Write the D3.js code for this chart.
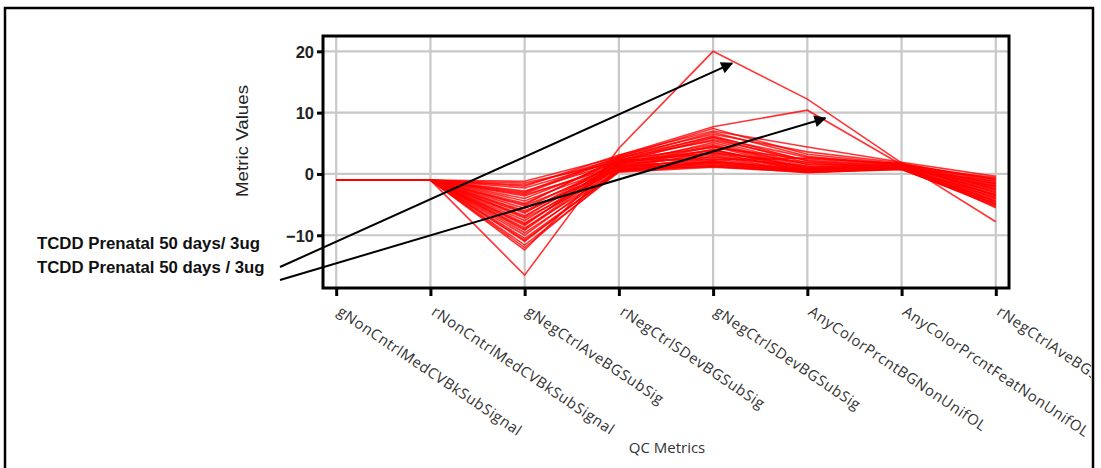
<!DOCTYPE html>
<html><head><meta charset="utf-8">
<script src="https://cdn.jsdelivr.net/npm/d3@7"></script>
<style>
html,body{margin:0;padding:0;background:#fff;}
svg{display:block;}
</style>
</head><body>
<svg id="chart" width="1101" height="468"></svg>
<script>
const categories = ["gNonCntrlMedCVBkSubSignal","rNonCntrlMedCVBkSubSignal","gNegCtrlAveBGSubSig","rNegCtrlSDevBGSubSig","gNegCtrlSDevBGSubSig","AnyColorPrcntBGNonUnifOL","AnyColorPrcntFeatNonUnifOL","rNegCtrlAveBGSubSig"];
const yTicks = [-10, 0, 10, 20];
const annotations = ["TCDD Prenatal 50 days/ 3ug", "TCDD Prenatal 50 days / 3ug"];
// Annotated samples (arrow targets)
const outlierA = [-1, -1, -16.5, 4.2, 20, 12.2, 1.8, -7.8];
const outlierB = [-1, -1, -12.4, 3.0, 7.7, 10.4, 1.5, -5.5];
const samples = [
  [-1,-1,-1.2,2.8,7.4,3.2,1.6,-1.0],
  [-1,-1,-1.8,2.5,6.8,2.9,1.4,-1.5],
  [-1,-1,-2.3,2.2,6.2,2.1,1.2,-2.2],
  [-1,-1,-2.8,1.9,5.9,1.8,1.1,-0.6],
  [-1,-1,-3.2,2.6,5.4,1.5,1.3,-1.9],
  [-1,-1,-3.6,1.6,5.1,1.2,1.0,-2.6],
  [-1,-1,-4.0,2.0,4.8,0.9,1.5,-3.1],
  [-1,-1,-4.4,1.3,4.5,0.7,0.9,-1.2],
  [-1,-1,-4.8,2.4,4.3,2.4,1.7,-3.6],
  [-1,-1,-5.2,1.1,4.0,0.5,0.8,-4.2],
  [-1,-1,-5.6,1.8,3.8,1.0,1.2,-2.8],
  [-1,-1,-6.0,0.9,3.6,0.4,1.0,-4.8],
  [-1,-1,-6.4,2.1,3.4,1.9,1.4,-1.7],
  [-1,-1,-6.8,1.4,3.1,0.6,1.1,-3.9],
  [-1,-1,-7.2,0.7,2.9,0.3,0.9,-5.0],
  [-1,-1,-7.6,1.7,2.7,1.3,1.3,-2.4],
  [-1,-1,-8.0,1.0,2.5,0.5,1.0,-4.5],
  [-1,-1,-8.4,2.3,2.3,2.6,1.6,-0.8],
  [-1,-1,-8.8,0.6,2.1,0.4,0.8,-5.3],
  [-1,-1,-9.2,1.5,1.9,0.8,1.2,-3.3],
  [-1,-1,-9.6,0.5,1.7,0.3,0.9,-4.6],
  [-1,-1,-10.0,1.2,1.5,0.6,1.1,-2.0],
  [-1,-1,-10.5,0.4,1.3,0.2,0.8,-5.2],
  [-1,-1,-11.0,0.8,1.2,0.4,1.0,-3.8],
  [-1,-1,-11.6,0.3,1.1,0.3,0.7,-4.9],
  [-1,-1,-12.0,0.6,1.4,0.5,0.9,-4.0],
  [-1,-1,-2.0,3.1,7.0,4.4,1.9,-0.4],
  [-1,-1,-3.0,2.9,6.5,3.6,1.8,-1.3],
  [-1,-1,-5.0,2.7,6.0,2.7,1.6,-2.5],
  [-1,-1,-7.0,2.2,5.6,2.2,1.5,-0.9],
  [-1,-1,-8.2,1.6,4.6,1.6,1.3,-3.0],
  [-1,-1,-9.0,1.9,3.9,1.1,1.2,-1.6],
  [-1,-1,-1.5,2.0,3.3,0.8,1.0,-2.1],
  [-1,-1,-3.4,1.2,2.2,0.6,0.9,-3.4],
  [-1,-1,-6.2,0.9,1.8,0.4,1.1,-4.4],
  [-1,-1,-10.8,0.5,2.0,0.7,1.0,-3.5]
];
const allSeries = samples.concat([outlierB, outlierA]);

const svg = d3.select("#chart");
const plot = {left: 323, right: 1009, top: 36, bottom: 288};

// outer frame
svg.append("rect").attr("x", 5).attr("y", 8).attr("width", 1088).attr("height", 480)
  .attr("fill", "none").attr("stroke", "#000").attr("stroke-width", 2.5);

const x = d3.scalePoint().domain(categories).range([plot.left, plot.right]).padding(0.14);
const y = d3.scaleLinear().domain([-18.6, 22.5]).range([plot.bottom, plot.top]);

// grid
const g = svg.append("g");
g.selectAll("line.vg").data(categories).join("line")
  .attr("x1", d => x(d)).attr("x2", d => x(d))
  .attr("y1", plot.top).attr("y2", plot.bottom)
  .attr("stroke", "#c8c8c8").attr("stroke-width", 2.2);
g.selectAll("line.hg").data(yTicks).join("line")
  .attr("x1", plot.left).attr("x2", plot.right)
  .attr("y1", d => y(d)).attr("y2", d => y(d))
  .attr("stroke", "#c8c8c8").attr("stroke-width", 2.2);

// series lines
const line = d3.line().x((d, i) => x(categories[i])).y(d => y(d));
svg.append("g").selectAll("path").data(allSeries).join("path")
  .attr("d", line).attr("fill", "none")
  .attr("stroke", "#ff0000").attr("stroke-width", 1.6).attr("stroke-opacity", 0.8);

// plot border
svg.append("rect").attr("x", plot.left).attr("y", plot.top)
  .attr("width", plot.right - plot.left).attr("height", plot.bottom - plot.top)
  .attr("fill", "none").attr("stroke", "#000").attr("stroke-width", 3);

// y axis
const yAxis = d3.axisLeft(y).tickValues(yTicks).tickSize(5).tickPadding(3).tickFormat(d3.format("d"));
const ya = svg.append("g").attr("transform", `translate(${plot.left - 1},0)`).call(yAxis);
ya.select(".domain").remove();
ya.selectAll(".tick line").attr("stroke", "#000").attr("stroke-width", 3);
ya.selectAll(".tick text").attr("font-family", "Liberation Sans, Arial, sans-serif")
  .attr("font-size", 16.5).attr("fill", "#222").attr("dy", "0.35em").attr("font-weight", "bold");

// x axis
const clip = svg.append("clipPath").attr("id", "frameclip").append("rect")
  .attr("x", 0).attr("y", 0).attr("width", 1091).attr("height", 468);
const xAxis = d3.axisBottom(x).tickSize(7).tickFormat("");
const xa = svg.append("g").attr("transform", `translate(0,${plot.bottom + 1})`).call(xAxis);
xa.select(".domain").remove();
xa.selectAll(".tick line").attr("stroke", "#000").attr("stroke-width", 3);
svg.append("g").attr("clip-path", "url(#frameclip)")
  .selectAll("text").data(categories).join("text")
  .attr("transform", d => `translate(${x(d)},${plot.bottom + 26}) rotate(34)`)
  .attr("font-family", "Open Sans, sans-serif").attr("font-size", 14.8)
  .attr("letter-spacing", 0.6).attr("fill", "#333")
  .text(d => d);

// axis titles
svg.append("text").attr("transform", `translate(248,141) rotate(-90)`)
  .attr("text-anchor", "middle").attr("font-family", "Liberation Sans, Arial, sans-serif")
  .attr("font-size", 17).attr("fill", "#222")
  .attr("textLength", 112).attr("lengthAdjust", "spacingAndGlyphs").text("Metric Values");
svg.append("text").attr("x", 667).attr("y", 453).attr("text-anchor", "middle")
  .attr("font-family", "Open Sans, sans-serif").attr("font-size", 15).attr("fill", "#333")
  .text("QC Metrics");

// annotations
svg.append("defs").append("marker").attr("id", "arrow")
  .attr("viewBox", "0 0 10 10").attr("refX", 9).attr("refY", 5)
  .attr("markerWidth", 7).attr("markerHeight", 6).attr("orient", "auto")
  .attr("markerUnits", "strokeWidth")
  .append("path").attr("d", "M0,0 L10,5 L0,10 Z").attr("fill", "#000");

svg.selectAll("text.ann").data(annotations).join("text").attr("class", "ann")
  .attr("x", 37).attr("y", (d, i) => 249 + i * 24)
  .attr("font-family", "Liberation Sans, Arial, sans-serif").attr("font-weight", "bold")
  .attr("font-size", 16.8).attr("fill", "#111").text(d => d);

const targets = [
  {src: [280, 267], ci: 4, v: outlierA[4], dx: 19, dy: 12},
  {src: [280, 280], ci: 5, v: outlierB[5], dx: 18, dy: 8}
];
svg.selectAll("line.arr").data(targets).join("line").attr("class", "arr")
  .attr("x1", d => d.src[0]).attr("y1", d => d.src[1])
  .attr("x2", d => x(categories[d.ci]) + d.dx).attr("y2", d => y(d.v) + d.dy)
  .attr("stroke", "#000").attr("stroke-width", 2).attr("marker-end", "url(#arrow)");
</script>
</body></html>
